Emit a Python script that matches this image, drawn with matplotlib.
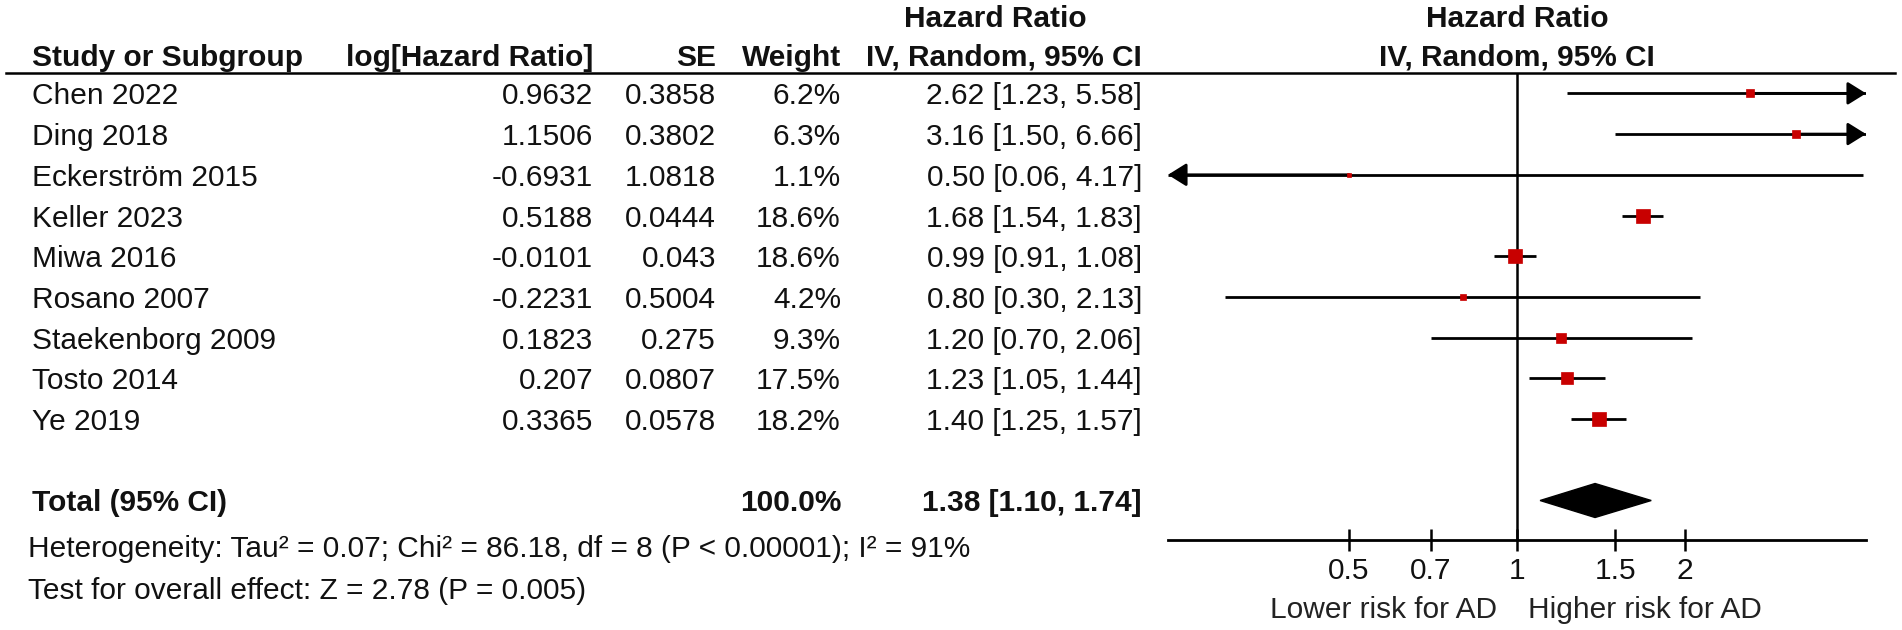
import numpy as np
import matplotlib
matplotlib.use("Agg")
import matplotlib.pyplot as plt
from matplotlib.patches import ArrowStyle

plt.rcParams['font.family'] = ['Liberation Sans', 'DejaVu Sans']

# ---------------- data ----------------
studies = ["Chen 2022", "Ding 2018", "Eckerström 2015", "Keller 2023", "Miwa 2016",
           "Rosano 2007", "Staekenborg 2009", "Tosto 2014", "Ye 2019"]
loghr_txt = ["0.9632", "1.1506", "-0.6931", "0.5188", "-0.0101", "-0.2231", "0.1823", "0.207", "0.3365"]
se_txt = ["0.3858", "0.3802", "1.0818", "0.0444", "0.043", "0.5004", "0.275", "0.0807", "0.0578"]
weights = [6.2, 6.3, 1.1, 18.6, 18.6, 4.2, 9.3, 17.5, 18.2]
hr = [2.62, 3.16, 0.50, 1.68, 0.99, 0.80, 1.20, 1.23, 1.40]
ci_lo = [1.23, 1.50, 0.06, 1.54, 0.91, 0.30, 0.70, 1.05, 1.25]
ci_hi = [5.58, 6.66, 4.17, 1.83, 1.08, 2.13, 2.06, 1.44, 1.57]

total_hr, total_lo, total_hi = 1.38, 1.10, 1.74
total_weight = "100.0%"
heterogeneity = "Heterogeneity: Tau² = 0.07; Chi² = 86.18, df = 8 (P < 0.00001); I² = 91%"
overall = "Test for overall effect: Z = 2.78 (P = 0.005)"

tick_vals = [0.5, 0.7, 1, 1.5, 2]
tick_labels = ["0.5", "0.7", "1", "1.5", "2"]
x_limits = (np.exp(-1.44), np.exp(1.44))

# ---------------- layout ----------------
W, H = 1902, 630
DPI = 100
fig = plt.figure(figsize=(W / DPI, H / DPI), dpi=DPI)
fig.patch.set_facecolor("white")

# overlay axes in pixel coordinates (for table text)
ov = fig.add_axes([0, 0, 1, 1])
ov.set_xlim(0, W)
ov.set_ylim(H, 0)
ov.axis("off")

FS = 21.5
RED = "#C80000"
TXT = "#111111"
LW = 2.0

# forest axes
x0, x1, y0, y1 = 1168, 1866, 73, 540
ax = fig.add_axes([x0 / W, 1 - y1 / H, (x1 - x0) / W, (y1 - y0) / H])
ax.patch.set_alpha(0)
ax.set_xscale("log")
ax.set_xlim(*x_limits)
n = len(studies)
total_row = n + 1
ax.set_ylim(n + 2 - 0.03, -0.5)
row_px = (y1 - y0) / (n + 2 - 0.03 + 0.5)

def row_y(i):
    return y0 + (i + 0.5) * row_px

for s in ["top", "left", "right"]:
    ax.spines[s].set_visible(False)
ax.spines["bottom"].set_linewidth(LW)
ax.set_yticks([])
ax.set_xticks(tick_vals)
ax.set_xticklabels(tick_labels)
ax.xaxis.set_minor_locator(matplotlib.ticker.NullLocator())
ax.tick_params(axis="x", direction="inout", length=16, width=1.8, pad=4,
               labelsize=FS, labelcolor=TXT)

# line of no effect
ax.axvline(1, color="black", lw=1.8, zorder=1)

arrow = ArrowStyle("-|>", head_length=0.8, head_width=0.5)
for i in range(n):
    lo, hi = ci_lo[i], ci_hi[i]
    lo_c = max(lo, x_limits[0])
    hi_c = min(hi, x_limits[1])
    ax.plot([lo_c, hi_c], [i, i], color="black", lw=LW, solid_capstyle="butt", zorder=2)
    if hi > x_limits[1]:
        ax.annotate("", xy=(x_limits[1], i), xytext=(hr[i], i),
                    arrowprops=dict(arrowstyle=arrow, color="black", lw=LW,
                                    shrinkA=0, shrinkB=0, mutation_scale=14),
                    annotation_clip=False, zorder=2)
    if lo < x_limits[0]:
        ax.annotate("", xy=(x_limits[0], i), xytext=(hr[i], i),
                    arrowprops=dict(arrowstyle=arrow, color="black", lw=LW,
                                    shrinkA=0, shrinkB=0, mutation_scale=14),
                    annotation_clip=False, zorder=2)
    side_px = 3.05 * np.sqrt(weights[i])
    ax.plot(hr[i], i, marker="s", ms=side_px * 72 / DPI, color=RED, mec=RED, mew=0.5, zorder=3)

# diamond
half = 17 / row_px
ax.fill([total_lo, total_hr, total_hi, total_hr],
        [total_row, total_row - half, total_row, total_row + half],
        color="black", zorder=3)

# ---------------- table text ----------------
TOFF = 3
col_study = 32
col_loghr = 593
col_se = 716
col_w = 841
col_ci = 1142

# header
ov.text(995, 19, "Hazard Ratio", ha="center", va="center", fontsize=FS, fontweight="bold", color=TXT)
ov.text(1517, 19, "Hazard Ratio", ha="center", va="center", fontsize=FS, fontweight="bold", color=TXT)
hy = 58
ov.text(col_study, hy, "Study or Subgroup", ha="left", va="center", fontsize=FS, fontweight="bold", color=TXT)
ov.text(col_loghr, hy, "log[Hazard Ratio]", ha="right", va="center", fontsize=FS, fontweight="bold", color=TXT)
ov.text(col_se, hy, "SE", ha="right", va="center", fontsize=FS, fontweight="bold", color=TXT)
ov.text(col_w, hy, "Weight", ha="right", va="center", fontsize=FS, fontweight="bold", color=TXT)
ov.text(col_ci, hy, "IV, Random, 95% CI", ha="right", va="center", fontsize=FS, fontweight="bold", color=TXT)
ov.text(1517, hy, "IV, Random, 95% CI", ha="center", va="center", fontsize=FS, fontweight="bold", color=TXT)
ov.plot([6, 1895], [72.5, 72.5], color="black", lw=1.8)

for i in range(n):
    y = row_y(i) + TOFF
    ov.text(col_study, y, studies[i], ha="left", va="center", fontsize=FS, color=TXT)
    ov.text(col_loghr, y, loghr_txt[i], ha="right", va="center", fontsize=FS, color=TXT)
    ov.text(col_se, y, se_txt[i], ha="right", va="center", fontsize=FS, color=TXT)
    ov.text(col_w, y, f"{weights[i]:.1f}%", ha="right", va="center", fontsize=FS, color=TXT)
    ov.text(col_ci, y, f"{hr[i]:.2f} [{ci_lo[i]:.2f}, {ci_hi[i]:.2f}]", ha="right", va="center",
            fontsize=FS, color=TXT)

ty = row_y(total_row) + 2
ov.text(col_study, ty, "Total (95% CI)", ha="left", va="center", fontsize=FS, fontweight="bold", color=TXT)
ov.text(col_w, ty, total_weight, ha="right", va="center", fontsize=FS, fontweight="bold", color=TXT)
ov.text(col_ci, ty, f"{total_hr:.2f} [{total_lo:.2f}, {total_hi:.2f}]", ha="right", va="center",
        fontsize=FS, fontweight="bold", color=TXT)

ov.text(col_study - 4, 549, heterogeneity, ha="left", va="center", fontsize=FS, color=TXT)
ov.text(col_study - 4, 591, overall, ha="left", va="center", fontsize=FS, color=TXT)

ov.text(1497, 610, "Lower risk for AD", ha="right", va="center", fontsize=FS, color="#222222")
ov.text(1528, 610, "Higher risk for AD", ha="left", va="center", fontsize=FS, color="#222222")

fig.savefig("out.png", dpi=DPI, facecolor="white")
